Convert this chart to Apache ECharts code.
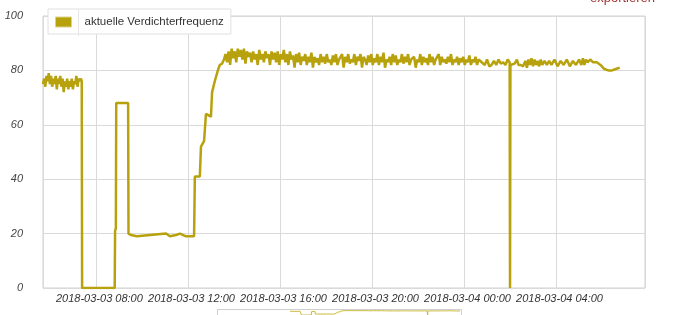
<!DOCTYPE html>
<html>
<head>
<meta charset="utf-8">
<script src="https://cdn.jsdelivr.net/npm/echarts@6/dist/echarts.min.js"></script>
<style>
html,body{margin:0;padding:0;background:#fff;}
#chart{width:673px;height:315px;}
</style>
</head>
<body>
<div id="chart"></div>
<script>
// Series name
const seriesName = 'aktuelle Verdichterfrequenz';
// Base date (local) and axis range, in minutes after 2018-03-03 00:00
const baseDate = [2018, 2, 3];
const axisMinMinute = 342;   // 2018-03-03 05:42
const axisMaxMinute = 1912;  // 2018-03-04 07:52
const yTicks = [0, 20, 40, 60, 80, 100];

// Sample times (minutes after 2018-03-03 00:00)
const minutes = [
  342,345,348,351,354,357,360,363,366,369,372,375,378,381,384,387,390,393,396,399,
  402,405,408,411,414,417,420,423,426,429,432,435,438,441,443,444,
  529,530,532,533,564,565,566,571,587,663,673,689,699,715,736,738,751,754,762,767,780,783,790,798,803,809,
  814,818,822,826,830,834,838,842,846,850,854,858,862,866,870,874,878,882,886,890,
  894,898,902,906,910,914,918,922,926,930,934,938,942,946,950,954,958,962,966,970,
  974,978,982,986,990,994,998,1002,1006,1010,
  1014,1018,1022,1026,1030,1034,1038,1042,1046,1050,1054,1058,1062,1066,1070,1074,1078,1082,1086,1090,
  1094,1098,1102,1106,1110,1114,1118,1122,1126,1130,1134,1138,1142,1146,1150,1154,1158,1162,1166,1170,
  1174,1178,1182,1186,1190,1194,1198,1202,1206,1210,1214,1218,1222,1226,1230,1234,1238,1242,1246,1250,
  1254,1258,1262,1266,1270,1274,1278,1282,1286,1290,1294,1298,1302,1306,1310,1314,1318,1322,1326,1330,
  1334,1338,1342,1346,1350,1354,1358,1362,1366,1370,1374,1378,1382,1386,1390,1394,1398,1402,1406,1410,
  1414,1418,1422,1426,1430,1434,1438,1442,1446,1450,1454,1458,1462,1466,1470,1474,1478,
  1486,1494,1500,1506,1512,1518,1524,1530,1536,1542,1548,1554,1559,1560,1561,
  1566,1572,1578,1582,1588,1594,1600,1604,1608,1612,1616,1620,1624,1628,1632,1636,1640,1644,1650,1656,
  1662,1668,1676,1684,1692,1700,1708,1716,1724,1732,1740,1746,1750,1754,1758,1762,1770,1776,1786,1796,
  1806,1816,1826,1836,1846
];
// Compressor frequency values
const values = [
  75,77,74,78,76,79,75,78,74,77,75,78,73,77,75,78,74,77,72,76,
  74,77,73,76,74,77,73,76,75,78,74,77,76,77,76,0,
  0,21,22,68,68,20,20,19.5,19,20,19,19.5,20,19,19,41,41,52,54,64,63,72,76,80,82,82.5,
  84,86,83,87,82,88,84.5,87,83,88,85,87.5,84,88,82.5,87,85,86.5,83,87,
  84,86,82,87.5,84,86,83,87,84.5,86,82,87,84,86.5,83,87,82,86,84,87.5,
  83,86,82,87,84,85.5,81,86,83,86.5,
  82,85,83.5,86,82,85,83,86.5,81,85,83,84.5,82,86,83,85,82.5,86,83,84,
  82,85.5,83,86,82,84,83.5,86,81,85,83,86,82.5,84,83,86,82,85,83.5,86,
  81,85,84,82,85.5,83,86,82,84.5,83,86,82,85,83,86.5,81,84,83,85,82,
  86,83,85.5,82,84,83,86,82.5,85,83,86,82,84,83.5,85,81,84,83,86,82,
  85,83,84.5,82,86,83,85,82,84,83.5,86,82,85,83,84,82.5,85,83,86,82,
  84,83,85,82,84.5,83,85,82,84,83,85.5,82,84,83,85,82,84,
  83,82,84,81.5,82,83.5,82,84,82.5,83,82,84,83,0,82,
  82,82.5,84,82,82,81.5,83.5,81,84,82,84.5,81.5,84,82,83.5,81.5,84,82,83.5,82,
  83.5,82,84,81.5,83.5,82,84,81.5,83.5,82,84,82,84.5,82,84,83,84,83,83,82,
  80.5,80,80,80.5,81
];

const lineColor = '#B7A20D';
const base = new Date(baseDate[0], baseDate[1], baseDate[2]).getTime();
const toTs = m => base + m * 60000;
const seriesData = minutes.map((m, i) => [toTs(m), values[i]]);

const chart = echarts.init(document.getElementById('chart'), null, {renderer: 'canvas'});
const labelFont = '"Liberation Sans", Arial, sans-serif';

chart.setOption({
  animation: false,
  backgroundColor: '#fff',
  legend: {
    data: [seriesName],
    left: 48, top: 9,
    padding: [7, 7, 6, 7],
    backgroundColor: '#fff',
    borderColor: '#e0e0e0', borderWidth: 1,
    icon: 'rect', itemWidth: 16, itemHeight: 10,
    itemStyle: {color: lineColor, borderColor: '#ddd38a', borderWidth: 1},
    textStyle: {fontFamily: labelFont, fontSize: 11.5, color: '#333', padding: [0, 0, 0, 8]}
  },
  grid: [
    {left: 43, right: 28, top: 16, bottom: 27, show: true, borderColor: '#d0d0d0', borderWidth: 1, containLabel: false},
    {left: 290, width: 170, top: 310, height: 14}
  ],
  xAxis: [{
    type: 'time',
    min: toTs(axisMinMinute), max: toTs(axisMaxMinute),
    minInterval: 4 * 3600000, maxInterval: 4 * 3600000,
    axisLine: {show: false}, axisTick: {show: false},
    splitLine: {show: true, lineStyle: {color: '#dadada'}},
    axisLabel: {
      fontFamily: labelFont, fontStyle: 'italic', fontSize: 11, color: '#333', margin: 5,
      padding: [0, 0, 0, 7],
      showMinLabel: false, showMaxLabel: false,
      formatter: function (v) {
        const d = new Date(v);
        if (d.getMinutes() !== 0 || d.getHours() % 4 !== 0) return '';
        return echarts.time.format(v, '{yyyy}-{MM}-{dd} {HH}:{mm}', false);
      }
    }
  }, {
    type: 'time', gridIndex: 1,
    min: toTs(minutes[0]), max: toTs(minutes[minutes.length - 1]),
    show: false
  }],
  yAxis: [{
    type: 'value', min: yTicks[0], max: yTicks[yTicks.length - 1], interval: 20,
    axisLine: {show: false}, axisTick: {show: false},
    splitLine: {show: true, lineStyle: {color: '#dadada'}},
    axisLabel: {fontFamily: labelFont, fontStyle: 'italic', fontSize: 11, color: '#444', margin: 20}
  }, {
    type: 'value', gridIndex: 1, min: 0, max: 100, show: false
  }],
  graphic: [
    {type: 'line', shape: {x1: 78.5, y1: 10, x2: 78.5, y2: 36}, style: {stroke: '#e6e6e6', lineWidth: 1}, z: 100},
    {type: 'text', right: 18, top: -8, style: {text: 'exportieren', fill: '#a33333', font: '13px "Liberation Sans", Arial, sans-serif'}},
    {type: 'rect', shape: {x: 217.5, y: 309.5, width: 244, height: 20}, style: {fill: 'none', stroke: '#cfcfcf', lineWidth: 1}}
  ],
  series: [{
    name: seriesName, type: 'line', data: seriesData,
    showSymbol: false, symbol: 'none',
    lineStyle: {color: lineColor, width: 2.5},
    itemStyle: {color: lineColor}
  }, {
    name: 'nav', type: 'line', data: seriesData, xAxisIndex: 1, yAxisIndex: 1,
    showSymbol: false, symbol: 'none', silent: true,
    lineStyle: {color: '#c9b93a', width: 1}
  }]
});
</script>
</body>
</html>
